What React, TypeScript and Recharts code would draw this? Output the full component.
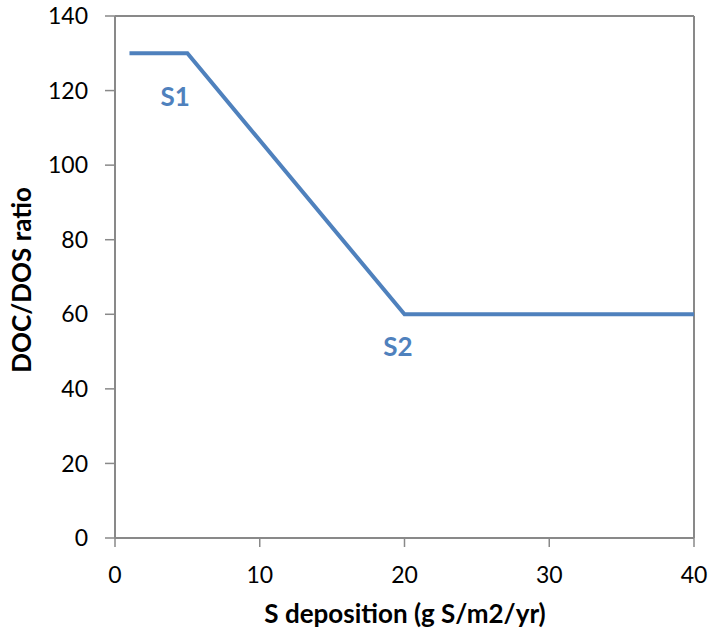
import { LineChart, Line, XAxis, YAxis, ReferenceDot, ReferenceLine } from "recharts";

// S deposition (g S/m2/yr) vs DOC/DOS ratio
const depositionValues = [1, 5, 20, 40];
const ratioValues = [130, 130, 60, 60];
const xTicks = [0, 10, 20, 30, 40];
const yTicks = [0, 20, 40, 60, 80, 100, 120, 140];

// breakpoint labels, placed in data coordinates
const markerNames = ["S1", "S2"];
const markerX = [4.15, 19.55];
const markerY = [118.3, 51.2];

const data = depositionValues.map((x, i) => ({ x, ratio: ratioValues[i] }));

const AXIS = "#898989";
const BLUE = "#4F81BD";
const FONT = "Lato, 'Open Sans', sans-serif";

const YTitle = () => (
  <text
    x={21}
    y={280}
    transform="rotate(-90 21 280)"
    textAnchor="middle"
    dominantBaseline="central"
    fontFamily={FONT}
    fontWeight={700}
    fontSize={26}
    fill="#000"
  >
    DOC/DOS ratio
  </text>
);

const XTitle = () => (
  <text x={405} y={623} textAnchor="middle" fontFamily={FONT} fontWeight={700} fontSize={26} fill="#000">
    S deposition (g S/m2/yr)
  </text>
);

const App = () => {
  const tickStyle = { fontSize: 23, fontFamily: FONT, fill: "#000" };
  return (
    // pinned to the corner so the body margin does not push in a scrollbar
    <div style={{ position: "absolute", left: 0, top: 0, width: 709, height: 634, background: "#fff" }}>
      <LineChart width={709} height={634} data={data} margin={{ top: 16, right: 15, left: 0, bottom: 0 }}>
        <XAxis
          dataKey="x"
          type="number"
          domain={[0, 40]}
          ticks={xTicks}
          height={96}
          tick={tickStyle}
          tickSize={9}
          tickMargin={20}
          axisLine={{ stroke: AXIS, strokeWidth: 2 }}
          tickLine={{ stroke: AXIS, strokeWidth: 1.5 }}
          label={<XTitle />}
        />
        <YAxis
          type="number"
          domain={[0, 140]}
          ticks={yTicks}
          width={115}
          tick={tickStyle}
          tickSize={10}
          tickMargin={17}
          axisLine={{ stroke: AXIS, strokeWidth: 2 }}
          tickLine={{ stroke: AXIS, strokeWidth: 1.5 }}
          label={<YTitle />}
        />
        {/* top and right edges of the plot box */}
        <ReferenceLine y={140} stroke={AXIS} strokeWidth={2} />
        <ReferenceLine x={40} stroke={AXIS} strokeWidth={2} />
        <Line
          dataKey="ratio"
          stroke={BLUE}
          strokeWidth={4}
          dot={false}
          activeDot={false}
          isAnimationActive={false}
        />
        {markerNames.map((name, i) => (
          <ReferenceDot
            key={name}
            x={markerX[i]}
            y={markerY[i]}
            r={0}
            fill="none"
            stroke="none"
            label={{ value: name, position: "center", fill: BLUE, fontSize: 26, fontWeight: 700, fontFamily: FONT }}
          />
        ))}
      </LineChart>
    </div>
  );
};

export default App;
